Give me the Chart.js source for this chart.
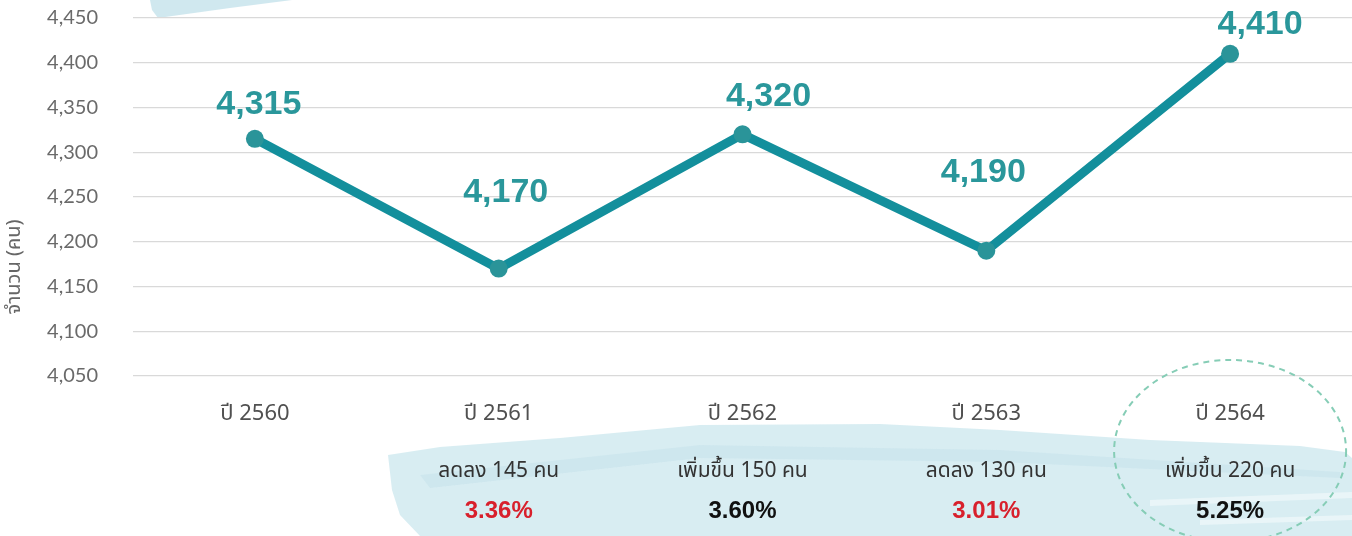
<!DOCTYPE html>
<html>
<head>
<meta charset="utf-8">
<script src="https://cdn.jsdelivr.net/npm/chart.js@4"></script>
<style>
  html, body { margin: 0; padding: 0; background: #fff; }
  #wrap { width: 1352px; height: 536px; position: relative; }
</style>
</head>
<body>
<div id="wrap"><canvas id="chart" width="1352" height="536"></canvas></div>
<script>
const years = ["ปี 2560", "ปี 2561", "ปี 2562", "ปี 2563", "ปี 2564"];
const people = [4315, 4170, 4320, 4190, 4410];
const changeText = ["", "ลดลง 145 คน", "เพิ่มขึ้น 150 คน", "ลดลง 130 คน", "เพิ่มขึ้น 220 คน"];
const changePct = ["", "3.36%", "3.60%", "3.01%", "5.25%"];
const changeDown = [false, true, false, true, false];
const yMin = 4050, yMax = 4450, yStep = 50;

// label nudges (px) relative to each point, as placed in the original
const labelDx = [4, 7, 26, -3, 30];
const labelDy = [-34, -76, -38, -78, -29];

const TEAL = "#138f9c";
const THAI = "'Noto Sans Thai', 'Noto Sans', 'Open Sans', sans-serif";

function brush(ctx, pts, color) {
  ctx.beginPath();
  ctx.moveTo(pts[0][0], pts[0][1]);
  for (let i = 1; i < pts.length; i++) ctx.lineTo(pts[i][0], pts[i][1]);
  ctx.closePath();
  ctx.fillStyle = color;
  ctx.fill();
}

const decor = {
  id: "decor",
  beforeDraw(chart) {
    const ctx = chart.ctx;
    ctx.save();
    // top-left brush
    brush(ctx, [[150, 0], [292, 0], [230, 8], [158, 18], [152, 10]], "rgba(200,228,236,0.85)");
    // bottom brush
    brush(ctx, [[388, 455], [440, 447], [560, 438], [700, 425], [880, 424], [1000, 430],
      [1150, 440], [1300, 446], [1345, 452], [1352, 458], [1352, 536], [420, 536], [400, 515], [392, 490]],
      "rgba(206,232,239,0.8)");
    brush(ctx, [[420, 475], [700, 445], [1000, 450], [1340, 472], [1340, 478], [1000, 462], [700, 458], [430, 488]],
      "rgba(190,222,232,0.35)");
    brush(ctx, [[1150, 500], [1352, 492], [1352, 498], [1150, 506]], "rgba(255,255,255,0.45)");
    brush(ctx, [[1200, 520], [1352, 515], [1352, 520], [1200, 525]], "rgba(255,255,255,0.45)");
    ctx.restore();
  },
  afterDraw(chart) {
    const ctx = chart.ctx;
    const xs = chart.scales.x;
    const meta = chart.getDatasetMeta(0);
    ctx.save();
    // value labels
    ctx.font = "bold 34px 'Liberation Sans', Arial, sans-serif";
    ctx.fillStyle = "#2a979b";
    ctx.textAlign = "center";
    ctx.textBaseline = "middle";
    meta.data.forEach((pt, i) => {
      ctx.fillText(people[i].toLocaleString("en-US"), pt.x + labelDx[i], pt.y + labelDy[i]);
    });
    // change rows
    years.forEach((_, i) => {
      if (!changeText[i]) return;
      const x = xs.getPixelForValue(i);
      ctx.font = "21px " + THAI;
      ctx.fillStyle = "#333";
      ctx.fillText(changeText[i], x, 473);
      ctx.font = "bold 24px 'Liberation Sans', Arial, sans-serif";
      ctx.fillStyle = changeDown[i] ? "#d8202c" : "#111";
      ctx.fillText(changePct[i], x, 511);
    });
    // dashed highlight around last year
    const cx = xs.getPixelForValue(years.length - 1);
    ctx.beginPath();
    ctx.ellipse(cx, 451, 116, 91, 0, 0, Math.PI * 2);
    ctx.setLineDash([6, 5]);
    ctx.lineWidth = 2;
    ctx.strokeStyle = "#86cdb6";
    ctx.stroke();
    ctx.setLineDash([]);
    // y axis title
    ctx.translate(16, 267);
    ctx.rotate(-Math.PI / 2);
    ctx.font = "20px " + THAI;
    ctx.fillStyle = "#666";
    ctx.fillText("จำนวน (คน)", 0, 0);
    ctx.restore();
  }
};

new Chart(document.getElementById("chart"), {
  type: "line",
  data: {
    labels: years,
    datasets: [{
      data: people,
      borderColor: TEAL,
      backgroundColor: "#2a9499",
      borderWidth: 9,
      pointRadius: 9,
      pointHoverRadius: 9,
      pointBorderWidth: 0,
      tension: 0,
      clip: false,
    }],
  },
  options: {
    responsive: false,
    animation: false,
    layout: { autoPadding: false, padding: { top: 18, right: 0, bottom: 0, left: 0 } },
    plugins: { legend: { display: false }, tooltip: { enabled: false } },
    scales: {
      x: {
        offset: true,
        grid: { display: false, drawTicks: false },
        border: { display: false },
        ticks: { color: "#505050", font: { size: 22, family: THAI }, padding: 26 },
        afterFit(s) { s.height = 160; },
      },
      y: {
        min: yMin,
        max: yMax,
        grid: { color: "#d9d9d9", lineWidth: 1.2, drawTicks: false },
        border: { display: false },
        ticks: {
          stepSize: yStep,
          color: "#6a6a6a",
          padding: 35,
          font: { size: 20, family: "Lato, 'Open Sans', sans-serif" },
          callback: (v) => v.toLocaleString("en-US"),
        },
        afterFit(s) { s.width = 133; s.paddingTop = 0; s.paddingBottom = 0; },
      },
    },
  },
  plugins: [decor],
});
</script>
</body>
</html>
